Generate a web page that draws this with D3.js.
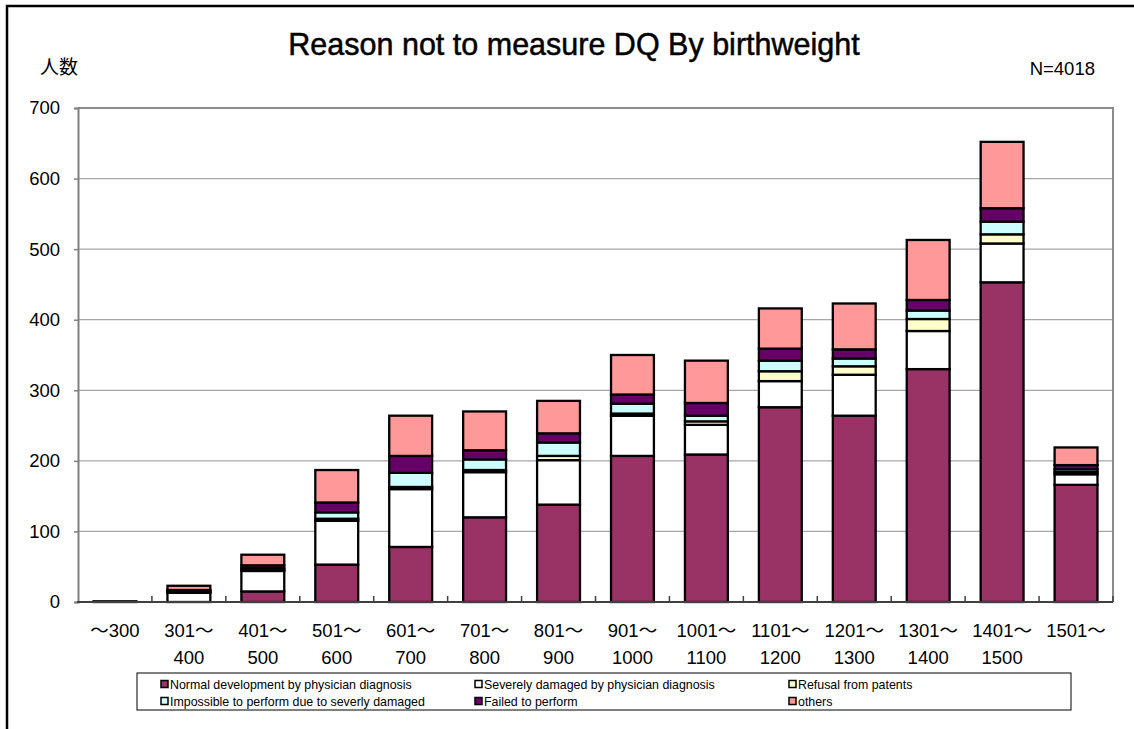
<!DOCTYPE html>
<html>
<head>
<meta charset="utf-8">
<script src="https://cdn.jsdelivr.net/npm/d3@7"></script>
<style>
  body { margin: 0; background: #fff; }
  svg { display: block; }
</style>
</head>
<body>
<svg id="chart"></svg>
<script>
// weight classes (two lines of label each)
var labelTop = ["～300", "301～", "401～", "501～", "601～", "701～", "801～", "901～", "1001～", "1101～", "1201～", "1301～", "1401～", "1501～"]
var labelBottom = ["", "400", "500", "600", "700", "800", "900", "1000", "1100", "1200", "1300", "1400", "1500", ""]

// series, bottom to top
var normal     = [0, 0, 15, 53, 78, 120, 138, 207, 209, 276, 264, 330, 453, 166]
var severe     = [1, 13, 29, 62, 82, 64, 63, 57, 42, 37, 58, 54, 55, 15]
var refusal    = [0, 1, 2, 3, 3, 3, 6, 3, 5, 14, 12, 17, 13, 3]
var impossible = [0, 1, 2, 9, 20, 15, 19, 14, 8, 15, 11, 12, 18, 4]
var failed     = [0, 2, 4, 14, 24, 13, 13, 13, 18, 17, 13, 15, 19, 6]
var others     = [0, 6, 15, 46, 57, 55, 46, 56, 60, 57, 65, 85, 94, 25]

var seriesNames = ["Normal development by physician diagnosis", "Severely damaged by physician diagnosis", "Refusal from patents",
    "Impossible to perform due to severly damaged", "Failed to perform", "others"]
var seriesColors = ["#993366", "#ffffff", "#ffffcc", "#ccffff", "#660066", "#ff9999"]
var yTicks = [0, 100, 200, 300, 400, 500, 600, 700]

const width = 1134
const height = 729

// tabela pro d3.stack
var keys = ["normal", "severe", "refusal", "impossible", "failed", "others"]
var cols = [normal, severe, refusal, impossible, failed, others]
var tabela = labelTop.map(function(d, i) {
    var row = {idx: i}
    keys.forEach(function(k, j) { row[k] = cols[j][i] })
    return row
})

var svg = d3.select("#chart")
    .attr("width", width)
    .attr("height", height)

var fonte = "'Liberation Sans', Arial, 'Noto Sans CJK JP', sans-serif"

// moldura externa
svg.append("rect")
    .attr("x", 7).attr("y", 6)
    .attr("width", width + 20).attr("height", height + 20)
    .attr("fill", "#fff")
    .attr("stroke", "#000")
    .attr("stroke-width", 2.5)

var x = d3.scaleBand()
    .domain(d3.range(labelTop.length))
    .range([78, 1113])
    .paddingInner(0.42)
    .paddingOuter(0.21)

var y = d3.scaleLinear()
    .domain([0, 700])
    .range([602, 108])

// linhas de grade
svg.append("g")
    .selectAll("line")
    .data(yTicks.filter(d => d > 0 && d < 700))
    .join("line")
    .attr("x1", 78).attr("x2", 1113)
    .attr("y1", d => y(d)).attr("y2", d => y(d))
    .attr("stroke", "#a6a6a6")
    .attr("stroke-width", 1.2)

// borda da area do grafico
svg.append("path")
    .attr("d", "M78," + y(700) + "H1113V" + y(0))
    .attr("fill", "none")
    .attr("stroke", "#8c8c8c")
    .attr("stroke-width", 2)

// barras empilhadas
var pilha = d3.stack().keys(keys)(tabela)

svg.append("g")
    .selectAll("g")
    .data(pilha)
    .join("g")
    .attr("fill", (d, i) => seriesColors[i])
    .selectAll("rect")
    .data(d => d)
    .join("rect")
    .attr("x", d => x(d.data.idx))
    .attr("width", x.bandwidth())
    .attr("y", d => y(d[1]))
    .attr("height", d => y(d[0]) - y(d[1]))
    .attr("stroke", "#000")
    .attr("stroke-width", 2.3)

// eixo y
var eixoY = svg.append("g")
    .attr("transform", "translate(78,0)")
    .call(d3.axisLeft(y).tickValues(yTicks).tickSize(4).tickPadding(14))
eixoY.select(".domain").attr("stroke", "#808080").attr("stroke-width", 2)
eixoY.selectAll(".tick line").attr("stroke", "#808080").attr("stroke-width", 1.5)
eixoY.selectAll("text")
    .style("font-family", fonte)
    .style("font-size", "18.5px")
    .attr("fill", "#000")

// eixo x: linha de base e marcas para dentro
svg.append("line")
    .attr("x1", 77).attr("x2", 1113)
    .attr("y1", y(0)).attr("y2", y(0))
    .attr("stroke", "#404040")
    .attr("stroke-width", 2)

svg.append("g")
    .selectAll("line")
    .data(d3.range(1, labelTop.length + 1))
    .join("line")
    .attr("x1", k => 78 + k * x.step())
    .attr("x2", k => 78 + k * x.step())
    .attr("y1", y(0)).attr("y2", y(0) - 6)
    .attr("stroke", "#404040")
    .attr("stroke-width", 1.5)

// rotulos do eixo x
var rot = svg.append("g")
    .selectAll("text")
    .data(tabela)
    .join("text")
    .attr("text-anchor", "middle")
    .style("font-family", fonte)
    .style("font-size", "18.5px")
    .attr("fill", "#000")
rot.append("tspan")
    .attr("x", d => x(d.idx) + x.bandwidth() / 2)
    .attr("y", 637)
    .text(d => labelTop[d.idx])
rot.append("tspan")
    .attr("x", d => x(d.idx) + x.bandwidth() / 2)
    .attr("y", 664)
    .text(d => labelBottom[d.idx])

// titulo e textos
svg.append("text")
    .attr("x", 574).attr("y", 55)
    .attr("text-anchor", "middle")
    .style("font-family", fonte)
    .style("font-size", "30.5px")
    .attr("stroke", "#000")
    .attr("stroke-width", 0.5)
    .text("Reason not to measure DQ By birthweight")

svg.append("text")
    .attr("x", 40).attr("y", 74)
    .style("font-family", "'Noto Sans CJK JP', sans-serif")
    .style("font-size", "19px")
    .text("人数")

svg.append("text")
    .attr("x", 1095).attr("y", 75)
    .attr("text-anchor", "end")
    .style("font-family", fonte)
    .style("font-size", "18.5px")
    .text("N=4018")

// legenda
svg.append("rect")
    .attr("x", 137).attr("y", 673)
    .attr("width", 934).attr("height", 37)
    .attr("fill", "#fff")
    .attr("stroke", "#000")
    .attr("stroke-width", 1)

var colX = [161, 475, 789]
var leg = svg.append("g")
    .selectAll("g")
    .data(seriesNames)
    .join("g")
    .attr("transform", (d, i) => "translate(" + colX[i % 3] + "," + (i < 3 ? 684 : 701) + ")")
leg.append("rect")
    .attr("x", 0).attr("y", -3.5)
    .attr("width", 7).attr("height", 7)
    .attr("fill", (d, i) => seriesColors[i])
    .attr("stroke", "#000")
    .attr("stroke-width", 1.5)
leg.append("text")
    .attr("x", 9).attr("y", 4.5)
    .style("font-family", fonte)
    .style("font-size", "12.4px")
    .text(d => d)
</script>
</body>
</html>
